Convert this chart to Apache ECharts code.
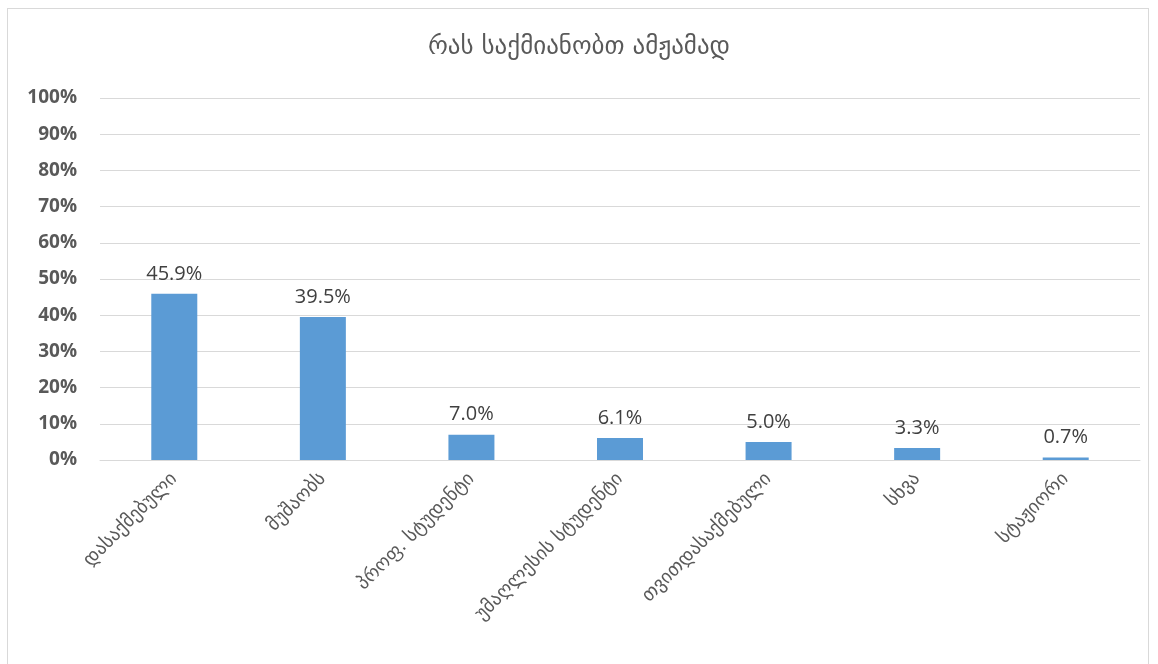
<!DOCTYPE html>
<html>
<head>
<meta charset="utf-8">
<script src="https://cdn.jsdelivr.net/npm/echarts@6/dist/echarts.min.js"></script>
<style>
html,body{margin:0;padding:0;background:#fff;}
#frame{position:absolute;left:7px;top:8px;width:1142px;height:670px;border:1px solid #d9d9d9;box-sizing:border-box;}
#chart{position:absolute;left:0;top:0;width:1158px;height:664px;}
</style>
</head>
<body>
<div id="frame"></div>
<div id="chart"></div>
<script>
const titleText = 'რას საქმიანობთ ამჟამად';
const categories = ['დასაქმებული','მუშაობს','პროფ. სტუდენტი','უმაღლესის სტუდენტი','თვითდასაქმებული','სხვა','სტაჟიორი'];
const values = [45.9, 39.5, 7.0, 6.1, 5.0, 3.3, 0.7];
const yTicks = [0,10,20,30,40,50,60,70,80,90,100];

const chart = echarts.init(document.getElementById('chart'));
chart.setOption({
  animation:false,
  title:{text:titleText,left:'center',top:30,textStyle:{fontFamily:'DejaVu Sans',fontSize:25,fontWeight:'normal',color:'#595959'}},
  grid:{left:100,right:18,top:98,bottom:204},
  xAxis:{type:'category',data:categories,
    axisLine:{lineStyle:{color:'#d9d9d9'}},axisTick:{show:false},
    axisLabel:{rotate:45,interval:0,color:'#595959',fontSize:19,fontFamily:'DejaVu Sans',margin:16}},
  yAxis:{type:'value',min:0,max:100,interval:10,
    axisLabel:{formatter:v=>v+'%',color:'#595959',fontSize:19,fontWeight:'bold',fontFamily:'Open Sans',margin:23},
    splitLine:{lineStyle:{color:'#d9d9d9'}},axisLine:{show:false},axisTick:{show:false}},
  series:[{type:'bar',data:values,barWidth:46,itemStyle:{color:'#5b9bd5'},
    label:{show:true,position:'top',distance:10,formatter:p=>p.value.toFixed(1)+'%',color:'#404040',fontSize:20,fontFamily:'Open Sans'}}]
});
</script>
</body>
</html>
